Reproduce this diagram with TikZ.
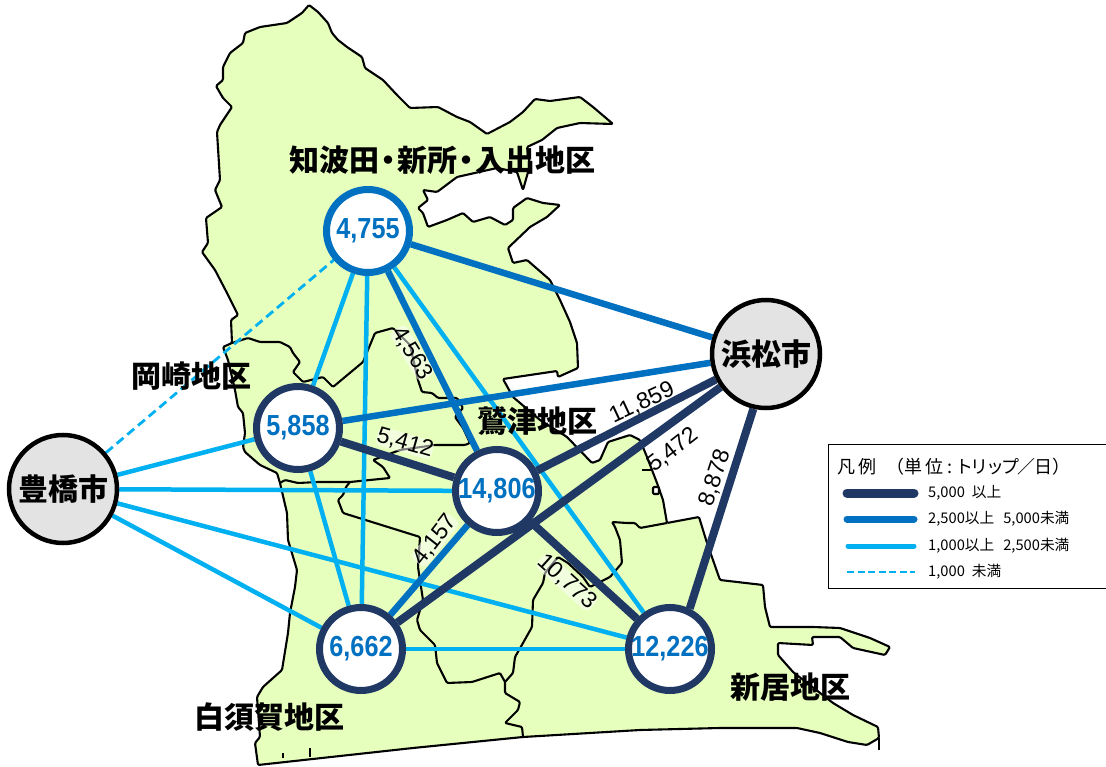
\documentclass[tikz,border=0pt]{standalone}
\usepackage{fontspec}
\usepackage{graphicx}
\setmainfont{Liberation Sans}
\newfontfamily\jp{Noto Sans CJK JP}
\newfontfamily\jpl{Noto Sans CJK JP}
\usetikzlibrary{backgrounds}
\definecolor{navy}{HTML}{1F3864}
\definecolor{midblue}{HTML}{0070C0}
\definecolor{skyblue}{HTML}{00B0F0}
\definecolor{landgreen}{HTML}{E6FFBD}
\definecolor{citygray}{HTML}{E3E3E3}
\newcommand\slim[1]{\raisebox{-3pt}{\scalebox{.87}[1]{#1}}}
\tikzset{
  boundary/.style={draw=black,line width=2.1pt,line join=round,rounded corners=1.2pt},
  heavy/.style={draw=navy,line width=8pt},
  medium/.style={draw=midblue,line width=6.5pt},
  light/.style={draw=skyblue,line width=4.5pt},
  faint/.style={draw=skyblue,line width=2.8pt,dash pattern=on 9pt off 5pt},
  district/.style={circle,fill=white,inner sep=0pt,minimum size=83pt,line width=7pt,text=midblue,font=\fontsize{29}{29}\selectfont\bfseries},
  city/.style={circle,draw=black,fill=citygray,inner sep=0pt,minimum size=108pt,line width=4.5pt,font=\jp\bfseries\fontsize{30}{30}\selectfont},
  placelabel/.style={inner sep=0pt,font=\jp\bfseries\fontsize{30}{30}\selectfont},
  flowlabel/.style={inner sep=0pt,font=\fontsize{23}{23}\selectfont},
  halo/.style={fill=white,fill opacity=.5,text opacity=1,rounded corners=5pt},
  legendtext/.style={anchor=west,inner sep=0pt,font=\jpl\fontsize{14.7}{14.7}\selectfont},
}
\begin{document}
\begin{tikzpicture}[x=1pt,y=-1pt]
\useasboundingbox (0,0) rectangle (1106,767);
% circles
\node[city] (toyo) at (63,489) {豊橋市};
\node[city] (hama) at (766,354) {浜松市};
\node[district,draw=midblue] (chiba) at (368,231) {\slim{4,755}};
\node[district,draw=navy] (oka) at (298,428) {\slim{5,858}};
\node[district,draw=navy] (wash) at (497,491) {\slim{14,806}};
\node[district,draw=navy] (shira) at (361,649) {\slim{6,662}};
\node[district,draw=navy] (arai) at (670,649) {\slim{12,226}};
\begin{scope}[on background layer]
\filldraw[boundary,fill=landgreen] (309,5) -- (318,12) -- (328,23) -- (332,33) -- (338,40) -- (347,47) -- (362,57) -- (365,68) -- (383,80) -- (397,95) -- (410,108) -- (438,107) -- (457,117) -- (470,122) -- (487,134) -- (510,122) -- (523,112) -- (535,99) -- (550,101) -- (580,97) -- (593,107) -- (613,124) -- (580,123) -- (557,128) -- (542,140) -- (527,147) -- (530,165) -- (523,190) -- (517,172) -- (497,168) -- (457,177) -- (437,192) -- (423,190) -- (428,200) -- (418,208) -- (423,213) -- (428,227) -- (447,220) -- (463,213) -- (473,222) -- (490,217) -- (505,225) -- (513,220) -- (513,208) -- (527,198) -- (543,203) -- (560,205) -- (547,217) -- (530,227) -- (508,248) -- (513,263) -- (527,260) -- (550,280) -- (560,300) -- (570,322) -- (577,343) -- (578,368) -- (558,377) -- (557,371) -- (503,379) -- (513,397) -- (540,420) -- (567,437) -- (592,463) -- (600,460) -- (608,442) -- (630,435) -- (640,440) -- (647,457) -- (652,470) -- (657,483) -- (663,500) -- (667,523) -- (699,517) -- (707,543) -- (720,580) -- (763,585) -- (765,607) -- (770,627) -- (813,627) -- (840,628) -- (870,638) -- (890,647) -- (885,655) -- (853,648) -- (840,637) -- (812,637) -- (813,645) -- (778,643) -- (778,655) -- (793,672) -- (833,703) -- (853,715) -- (878,727) -- (879,738) -- (867,745) -- (848,742) -- (820,733) -- (797,728) -- (720,728) -- (640,730) -- (523,737) -- (413,748) -- (258,765) -- (255,743) -- (260,737) -- (257,697) -- (263,687) -- (282,670) -- (288,633) -- (290,613) -- (295,587) -- (297,570) -- (288,540) -- (287,513) -- (280,483) -- (277,473) -- (260,465) -- (245,452) -- (243,447) -- (245,433) -- (243,413) -- (238,407) -- (235,390) -- (228,360) -- (223,347) -- (232,343) -- (231,320) -- (238,315) -- (227,293) -- (215,270) -- (202,252) -- (208,243) -- (206,218) -- (222,207) -- (215,190) -- (220,180) -- (217,132) -- (220,125) -- (232,107) -- (223,98) -- (216,86) -- (223,80) -- (223,67) -- (230,53) -- (243,43) -- (245,33) -- (260,27) -- (287,23) -- (302,13) -- cycle;
% inner boundaries
\draw[boundary] (232,343) -- (248,338) -- (260,342) -- (280,342) -- (290,347) -- (293,353) -- (300,362) -- (293,372) -- (303,382) -- (323,377) -- (333,387) -- (363,362) -- (375,333) -- (393,328) -- (410,345) -- (418,380) -- (422,392) -- (432,393) -- (438,398) -- (457,398) -- (463,408) -- (455,417) -- (463,428) -- (470,443) -- (465,445) -- (435,445) -- (400,450) -- (373,460) -- (383,467) -- (390,478) -- (350,482) -- (318,482) -- (298,483) -- (285,480) -- (280,483);
\draw[boundary] (350,482) -- (346,487) -- (343,495) -- (338,500) -- (343,513) -- (420,537) -- (418,567) -- (423,600) -- (417,620) -- (420,630) -- (435,645) -- (437,663) -- (447,683) -- (472,682) -- (500,673) -- (505,682) -- (513,673) -- (515,657) -- (523,643) -- (532,627) -- (533,600) -- (543,583) -- (545,573) -- (558,557) -- (568,563) -- (583,577) -- (590,587) -- (610,577) -- (622,563) -- (620,540) -- (615,527) -- (612,522) -- (627,523) -- (635,523) -- (640,528) -- (667,523);
\draw[boundary] (505,682) -- (505,693) -- (520,702) -- (518,710) -- (505,723) -- (522,727) -- (523,737);
\draw[boundary] (283,753) -- (283,758);
\draw[boundary] (310,748) -- (310,757);
\draw[boundary] (879,738) -- (879,750);
\draw[boundary] (652,470) -- (642,470);
\draw[boundary,fill=white] (653,487) rectangle (659,494);
% connectors
\draw[faint] (toyo) -- (chiba);
\draw[light] (toyo) -- (oka);
\draw[light] (toyo) -- (wash);
\draw[light] (toyo) -- (shira);
\draw[light] (toyo) -- (arai);
\draw[light] (chiba) -- (oka);
\draw[light] (chiba) -- (shira);
\draw[light] (chiba) -- (arai);
\draw[light] (oka) -- (shira);
\draw[light] (shira) -- (arai);
\draw[medium] (chiba) -- (wash);
\draw[medium] (chiba) -- (hama);
\draw[medium] (oka) -- (hama);
\draw[medium] (wash) -- (shira);
\draw[heavy] (oka) -- (wash);
\draw[heavy] (wash) -- (hama);
\draw[heavy] (wash) -- (arai);
\draw[heavy] (shira) -- (hama);
\draw[heavy] (arai.64) -- (hama.257);
\end{scope}
% place labels
\node[placelabel] (lchiba) at (442,160) {知波田\kern-6pt・\kern-6pt新所\kern-6pt・\kern-6pt入出地区};
\node[placelabel] (loka) at (191,376) {岡崎地区};
\node[placelabel] (lwash) at (537,421) {鷲津地区};
\node[placelabel] (lshira) at (269,717) {白須賀地区};
\node[placelabel] (larai) at (790,687) {新居地区};
% flow labels
\node[flowlabel,halo,rotate=-58] (f1) at (412,353) {4,563};
\node[flowlabel,halo,rotate=-16] (f2) at (405,443) {5,412};
\node[flowlabel,rotate=25] (f3) at (642,403) {11,859};
\node[flowlabel,rotate=38] (f4) at (673,450) {5,472};
\node[flowlabel,rotate=72] (f5) at (715,478) {8,878};
\node[flowlabel,halo,rotate=52] (f6) at (435,540) {4,157};
\node[flowlabel,halo,rotate=-42] (f7) at (567,582) {10,773};
% legend
\node[draw=black,fill=white,line width=1pt,anchor=north west,minimum width=278pt,minimum height=144pt,inner sep=0pt] (legend) at (827.5,443.5) {};
\node[anchor=west,inner sep=0pt,font=\jpl\fontsize{18}{18}\selectfont] (ltitle) at (837,467) {凡\kern3pt 例\kern10pt （単\kern3pt 位\kern4pt:\kern3pt ト\kern-2.5pt リ\kern-2.5pt ッ\kern-2.5pt プ\kern-2pt ／\kern-1pt 日）};
\coordinate (a1) at (843,493); \coordinate (a2) at (918,493);
\coordinate (b1) at (844,519); \coordinate (b2) at (917,519);
\coordinate (c1) at (846,546); \coordinate (c2) at (916,546);
\coordinate (d1) at (847,572); \coordinate (d2) at (915,572);
\draw[draw=navy,line width=9pt,line cap=round,shorten >=4pt,shorten <=4pt] (a1) -- (a2);
\draw[draw=midblue,line width=7pt,line cap=round,shorten >=3pt,shorten <=3pt] (b1) -- (b2);
\draw[draw=skyblue,line width=5pt,line cap=round,shorten >=2pt,shorten <=2pt] (c1) -- (c2);
\draw[draw=skyblue,line width=2.8pt,dash pattern=on 7pt off 3.5pt] (d1) -- (d2);
\node[legendtext] (t1) at (928,493) {5,000\kern7pt 以上};
\node[legendtext] (t2) at (928,519) {2,500以上\kern9pt 5,000未満};
\node[legendtext] (t3) at (928,546) {1,000以上\kern9pt 2,500未満};
\node[legendtext] (t4) at (928,572) {1,000\kern7pt 未満};
\end{tikzpicture}
\end{document}
